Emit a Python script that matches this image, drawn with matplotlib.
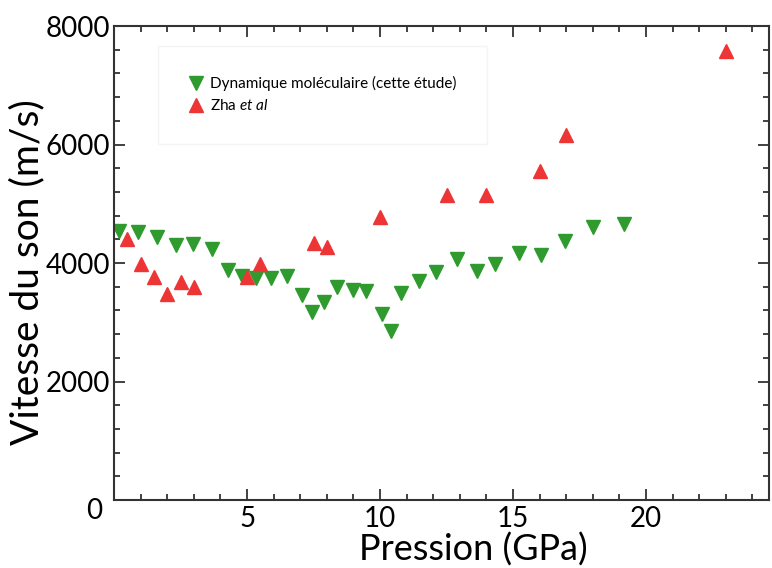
import matplotlib
matplotlib.use("Agg")
import matplotlib.pyplot as plt
from matplotlib.ticker import MultipleLocator

plt.rcParams['font.family'] = ['Lato', 'DejaVu Sans']
plt.rcParams['mathtext.fontset'] = 'custom'
plt.rcParams['mathtext.rm'] = 'Lato'
plt.rcParams['mathtext.it'] = 'Lato:italic'

# dynamique moleculaire (cette etude)
p_md = [0.2, 0.9, 1.63, 2.32, 2.97, 3.67, 4.29, 4.82, 5.33, 5.9, 6.49, 7.06, 7.44, 7.89,
        8.39, 8.98, 9.47, 10.06, 10.4, 10.79, 11.48, 12.09, 12.88, 13.66, 14.34, 15.24,
        16.05, 16.97, 18.02, 19.18]
v_md = [4545, 4530, 4444, 4298, 4315, 4242, 3882, 3781, 3750, 3741, 3781, 3454, 3167, 3347,
        3600, 3544, 3522, 3134, 2850, 3499, 3702, 3848, 4068, 3870, 3989, 4163,
        4135, 4366, 4602, 4658]

# Zha et al
p_zha = [0.5, 1.0, 1.5, 2.0, 2.5, 3.0, 5.0, 5.5, 7.5, 8.0, 10.0, 12.5, 14.0, 16.0, 17.0, 23.0]
v_zha = [4410, 3978, 3769, 3477, 3674, 3600, 3758, 3983, 4343, 4264, 4782, 5148, 5148, 5558, 6160, 7584]

green = '#2f9b2f'
red = '#ee3535'

fig = plt.figure(figsize=(7.72, 5.68), dpi=100)
ax = fig.add_axes([0.1477, 0.1197, 0.8483, 0.8345])

ax.plot(p_md, v_md, 'v', color=green, ms=9.5, mec=green, ls='none',
        label='Dynamique moléculaire (cette étude)')
ax.plot(p_zha, v_zha, '^', color=red, ms=9.5, mec=red, ls='none',
        label=r'Zha $et\ al$')

ax.set_xlim(0, 24.62)
ax.set_ylim(0, 8000)
ax.set_xticks([5, 10, 15, 20])
ax.set_yticks([2000, 4000, 6000, 8000])
ax.xaxis.set_minor_locator(MultipleLocator(1))
ax.yaxis.set_minor_locator(MultipleLocator(400))
ax.tick_params(which='both', direction='in', top=True, right=True, width=1.3, color='#333333')
ax.tick_params(which='major', length=8, labelsize=20)
ax.tick_params(axis='x', which='major', pad=4)
ax.tick_params(axis='y', which='major', pad=3)
ax.tick_params(which='minor', length=4)
for s in ax.spines.values():
    s.set_color('#333333')
    s.set_linewidth(1.5)

ax.annotate('0', xy=(0, 0), xycoords='axes fraction', xytext=(-14, -8),
            textcoords='offset points', ha='center', va='center', fontsize=20)

ax.set_xlabel('Pression (GPa)', fontsize=26)
ax.xaxis.set_label_coords(0.548, -0.069)
ax.set_ylabel('Vitesse du son (m/s)', fontsize=28)
ax.yaxis.set_label_coords(-0.105, 0.481)

leg = ax.legend(loc='upper left', bbox_to_anchor=(0.055, 0.975), fontsize=11,
                frameon=True, fancybox=False, edgecolor='#f2f2f2',
                borderpad=2.0, handletextpad=0.4, handlelength=1.0, labelspacing=0.45)

fig.savefig('out.png', dpi=100)
